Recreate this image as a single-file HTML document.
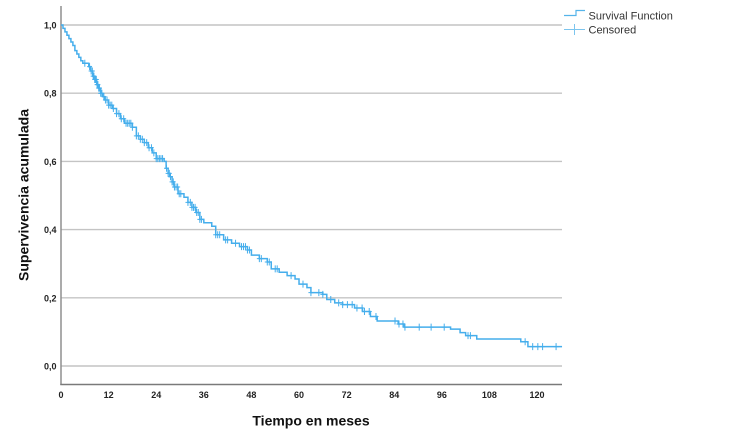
<!DOCTYPE html>
<html lang="es">
<head>
<meta charset="utf-8">
<title>Supervivencia acumulada</title>
<style>
html,body{margin:0;padding:0;background:#fff;width:750px;height:440px;overflow:hidden}
svg{display:block;font-family:"Liberation Sans",Arial,sans-serif;filter:blur(0.35px)}
</style>
</head>
<body>
<svg id="chart" width="750" height="440" viewBox="0 0 750 440" xmlns="http://www.w3.org/2000/svg">
<rect width="750" height="440" fill="#fff"/>
<g id="grid"></g>
<g id="axes"></g>
<g id="series"></g>
<text x="0" y="0" transform="translate(28.5,195) rotate(-90)" text-anchor="middle" font-size="14" font-weight="bold" fill="#111">Supervivencia acumulada</text>
<text x="311" y="425.5" text-anchor="middle" font-size="14" font-weight="bold" fill="#111">Tiempo en meses</text>
<g>
<path d="M564 15.5H576V10.5H585" fill="none" stroke="#55b4ea" stroke-width="1.2"/>
<text x="588.5" y="19.5" font-size="11" fill="#333">Survival Function</text>
<path d="M564 29.5H585M574.5 24V35" fill="none" stroke="#7cc5ee" stroke-width="1"/>
<text x="588.5" y="33.5" font-size="11" fill="#333">Censored</text>
</g>
</svg>
<script>
const xTicks = [0,12,24,36,48,60,72,84,96,108,120];
const yTicks = [0,0.2,0.4,0.6,0.8,1.0];
const stepTimes = [0,0.5,1,1.5,2,2.5,3,3.5,4,4.5,5,5.5,7,7.5,8,8.5,9,9.5,10,10.5,11,12,13,14,15,16,18,19,20,21,22,23,24,26,26.5,27,27.5,28,28.5,29.5,31,32,33,34,35,36,38,39,41,43,45,47,48,50,52,53,55,57,59,60,62,63,66,67,69,71,74,76,78,79.7,85,86.5,98.2,100.6,102,104.8,115.9,117.7];
const survival = [1,0.99,0.98,0.97,0.96,0.95,0.94,0.925,0.915,0.905,0.895,0.888,0.878,0.865,0.85,0.84,0.825,0.815,0.8,0.79,0.78,0.765,0.755,0.74,0.725,0.712,0.7,0.675,0.665,0.655,0.64,0.625,0.608,0.6,0.58,0.565,0.555,0.54,0.525,0.505,0.495,0.48,0.465,0.45,0.43,0.42,0.41,0.385,0.37,0.36,0.35,0.34,0.325,0.315,0.305,0.285,0.275,0.265,0.255,0.24,0.23,0.215,0.21,0.195,0.185,0.18,0.17,0.16,0.145,0.132,0.123,0.114,0.108,0.098,0.089,0.079,0.071,0.057];
const censorTimes = [6,7.2,7.6,7.9,8.1,8.3,8.5,8.7,8.9,9.1,9.3,9.5,9.7,10,10.3,10.8,11.2,11.6,12,12.4,12.8,13.2,14,14.6,15.2,15.8,16.4,16.8,17.2,17.6,18,19,19.5,20,20.5,21,21.6,22.2,22.8,23.4,24,24.4,24.8,25.2,25.6,26.6,27,27.3,27.6,28,28.3,28.6,29,29.4,29.8,30.2,32,32.6,33,33.4,33.8,34.2,34.6,35,35.4,39,39.5,40,41.5,42,44,45.5,46,46.5,47,47.5,50,50.5,52,52.5,54,54.5,58,61,63,65,66,68,70,71,72.2,73.4,74.6,75.9,76.5,77.7,79.4,84.2,85.2,86.2,86.7,90.3,93.3,96.6,102.6,103.2,117,118.9,120.2,121.4,124.8];
const ns = 'http://www.w3.org/2000/svg';
const X0 = 61, XPER = 3.967, Y0 = 366, YLEN = 341, LINE = '#45aeec';
function xScale(t){ return X0 + t * XPER; }
function yScale(s){ return Y0 - s * YLEN; }
function valueAt(t){
  let v = survival[0];
  for (let i = 0; i < stepTimes.length; i++){ if (stepTimes[i] <= t) v = survival[i]; }
  return v;
}
function mk(parent, tag, attrs, text){
  const el = document.createElementNS(ns, tag);
  for (const k in attrs) el.setAttribute(k, attrs[k]);
  if (text !== undefined) el.textContent = text;
  parent.appendChild(el);
  return el;
}
const grid = document.getElementById('grid');
const axes = document.getElementById('axes');
const series = document.getElementById('series');
yTicks.forEach(function(v){
  const g = mk(grid, 'line', {x1:61, x2:562, y1:yScale(v), y2:yScale(v), stroke:'#c4c4c4', 'stroke-width':1.4});
  
  
  const t = mk(axes, 'text', {x:56.5, y:yScale(v)+3.5, 'text-anchor':'end', 'font-size':9, 'font-weight':'bold', fill:'#222'}, v.toFixed(1).replace('.', ','));
  
  
});
const yAxis = mk(axes, 'line', {x1:61, x2:61, y1:6, y2:385, stroke:'#8f8f8f', 'stroke-width':1.5});


const xAxis = mk(axes, 'line', {x1:60.3, x2:562, y1:384.5, y2:384.5, stroke:'#7a7a7a', 'stroke-width':1.5});


xTicks.forEach(function(v){
  const t = mk(axes, 'text', {x:xScale(v), y:398, 'text-anchor':'middle', 'font-size':9, 'font-weight':'bold', fill:'#222'}, String(v));
  
  
});
let d = 'M' + xScale(stepTimes[0]) + ' ' + yScale(survival[0]);
for (let i = 1; i < stepTimes.length; i++){
  d += 'H' + xScale(stepTimes[i]) + 'V' + yScale(survival[i]);
}
d += 'H' + xScale(126.3);
const curve = mk(series, 'path', {d:d, fill:'none', stroke:LINE, 'stroke-width':1.5});


censorTimes.forEach(function(t){
  const cx = xScale(t), cy = yScale(valueAt(t));
  const m = mk(series, 'path', {d:'M'+(cx-2.5)+' '+cy+'H'+(cx+2.5)+'M'+cx+' '+(cy-3.5)+'V'+(cy+3.5), fill:'none', stroke:LINE, 'stroke-width':1});
  
  
});
</script>
</body>
</html>
